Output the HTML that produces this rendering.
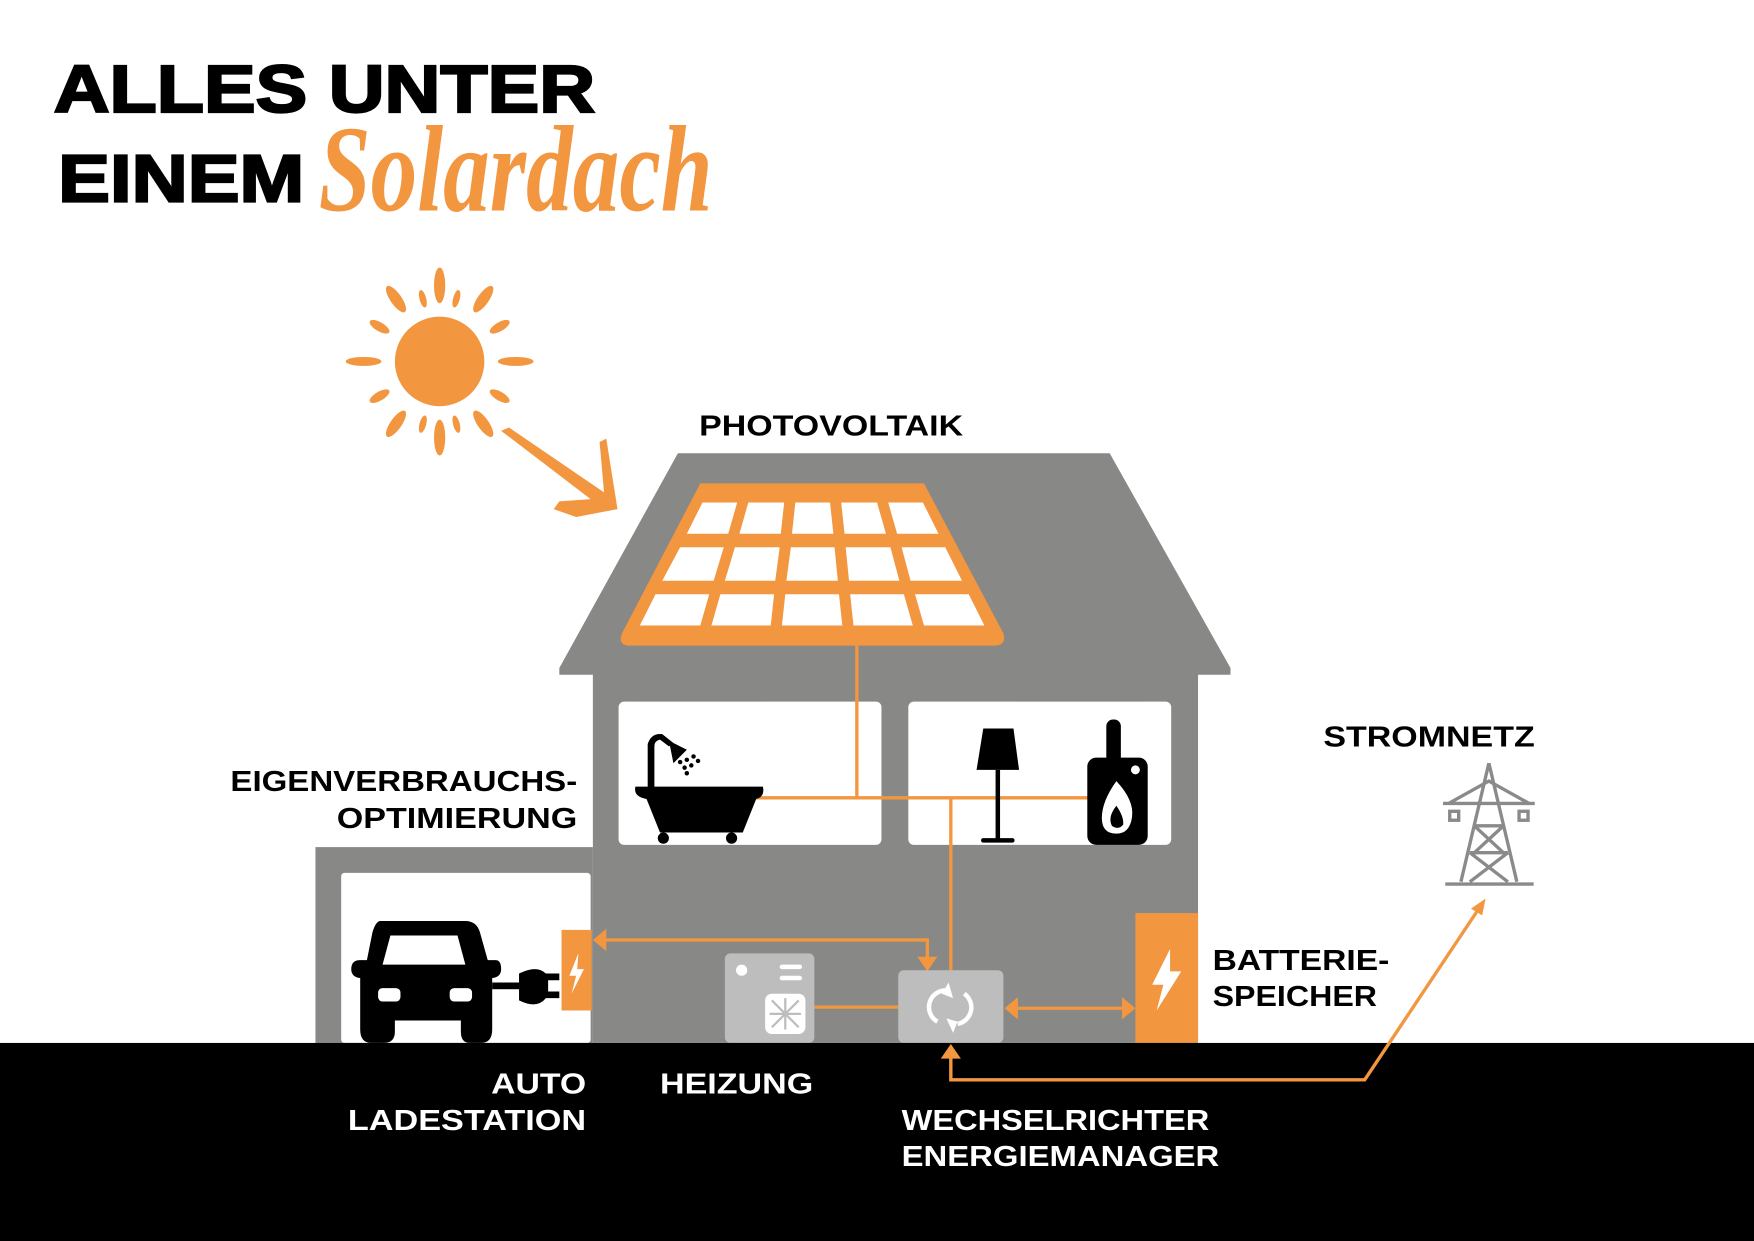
<!DOCTYPE html>
<html><head><meta charset="utf-8"><style>html,body{margin:0;padding:0;background:#fff}svg{display:block}</style></head><body>
<svg width="1754" height="1241" viewBox="0 0 1568 1109" preserveAspectRatio="none" xmlns="http://www.w3.org/2000/svg" font-family="Liberation Sans, sans-serif" font-weight="bold">
<rect width="1568" height="1109" fill="#fff"/>
<text x="48" y="100" font-size="60" textLength="484" lengthAdjust="spacingAndGlyphs" fill="#000" stroke="#000" stroke-width="2">ALLES UNTER</text>
<text x="52" y="180" font-size="60" textLength="220" lengthAdjust="spacingAndGlyphs" fill="#000" stroke="#000" stroke-width="2">EINEM</text>
<text x="285" y="188" font-size="110" font-family="Liberation Serif, serif" font-style="italic" textLength="352" lengthAdjust="spacingAndGlyphs" fill="#f2963f">Solardach</text>
<g fill="#f2963f">
<circle cx="393" cy="323" r="40"/>
<g transform="translate(393,323)">
<ellipse cx="0" cy="-68" rx="5" ry="16"/><ellipse cx="0" cy="68" rx="5" ry="16"/>
<ellipse cx="-68" cy="0" rx="16" ry="4"/><ellipse cx="68" cy="0" rx="16" ry="4"/>
<ellipse cx="0" cy="-68" rx="5" ry="14" transform="rotate(35)"/><ellipse cx="0" cy="-68" rx="5" ry="14" transform="rotate(-35)"/>
<ellipse cx="0" cy="68" rx="5" ry="14" transform="rotate(35)"/><ellipse cx="0" cy="68" rx="5" ry="14" transform="rotate(-35)"/>
<ellipse cx="0" cy="-62" rx="4" ry="10" transform="rotate(60)"/><ellipse cx="0" cy="-62" rx="4" ry="10" transform="rotate(-60)"/>
<ellipse cx="0" cy="62" rx="4" ry="10" transform="rotate(60)"/><ellipse cx="0" cy="62" rx="4" ry="10" transform="rotate(-60)"/>
<ellipse cx="0" cy="-58" rx="3" ry="8" transform="rotate(15)"/><ellipse cx="0" cy="-58" rx="3" ry="8" transform="rotate(-15)"/>
<ellipse cx="0" cy="58" rx="3" ry="8" transform="rotate(15)"/><ellipse cx="0" cy="58" rx="3" ry="8" transform="rotate(-15)"/>
</g>
<path d="M448 385 L455 382 L540 440 L536 395 L542 392 L552 455 L515 462 L495 455 L500 448 L528 446 Z"/>
</g>
<path d="M606 405 L992 405 L1100 597 L1100 603 L1071 603 L1071 932 L530 932 L530 603 L500 603 L500 597 Z" fill="#888886"/>
<rect x="282" y="757" width="248" height="175" fill="#888886"/>
<rect x="305" y="780" width="223" height="152" rx="3" fill="#fff"/>
<rect x="553" y="627" width="235" height="128" rx="5" fill="#fff"/>
<rect x="812" y="627" width="235" height="128" rx="5" fill="#fff"/>
<path d="M626 432 L826 432 L897 566 Q900 576 890 577 L562 577 Q552 576 556 566 Z" fill="#f2963f"/>
<g fill="#fff">
<polygon points="628,449 659,449 651,477 614,477"/><polygon points="669,449 701,449 698,477 661,477"/><polygon points="711,449 742,449 745,477 708,477"/><polygon points="752,449 784,449 792,477 755,477"/><polygon points="794,449 825,449 839,477 802,477"/>
<polygon points="608,489 647,489 638,519 592,519"/><polygon points="657,489 697,489 693,519 648,519"/><polygon points="707,489 746,489 749,519 703,519"/><polygon points="756,489 796,489 804,519 759,519"/><polygon points="806,489 845,489 860,519 814,519"/>
<polygon points="586,531 634,531 626,559 572,559"/><polygon points="644,531 692,531 689,559 636,559"/><polygon points="702,531 750,531 753,559 699,559"/><polygon points="760,531 808,531 816,559 763,559"/><polygon points="818,531 866,531 880,559 826,559"/>
</g>
<g stroke="#f2963f" stroke-width="3" fill="none">
<path d="M766 577 V713 M675 713 H975 M850 713 V867 M728 900 H803"/>
<path d="M829 858 V840 H540"/>
<path d="M910 901 H1003"/>
</g>
<g fill="#f2963f">
<polygon points="530,840 542,830 542,850"/>
<polygon points="820,855 838,855 829,868"/>
<polygon points="898,901 910,891 910,911"/>
<polygon points="1015,901 1003,891 1003,911"/>
</g>
<rect x="502" y="831" width="27" height="72" fill="#f2963f"/>
<path d="M517 852 L509 872 L515 872 L511 888 L522 866 L516 866 Z" fill="#fff"/>
<rect x="1015" y="816" width="56" height="116" fill="#f2963f"/>
<path d="M1046 848 L1030 880 L1040 880 L1034 903 L1056 868 L1046 868 Z" fill="#fff"/>
<rect x="648" y="852" width="80" height="80" rx="5" fill="#bdbdbd"/>
<circle cx="663" cy="867" r="5" fill="#fff"/><rect x="697" y="862" width="20" height="4" rx="2" fill="#fff"/><rect x="697" y="872" width="20" height="4" rx="2" fill="#fff"/>
<rect x="684" y="888" width="36" height="36" rx="6" fill="#fff"/>
<g stroke="#bdbdbd" stroke-width="2"><path d="M690 894 L714 918 M714 894 L690 918 M702 892 V920 M688 906 H716"/></g>
<rect x="803" y="867" width="94" height="65" rx="5" fill="#bdbdbd"/>
<g fill="none" stroke="#fff" stroke-width="4"><path d="M846 885 A15 15 0 0 0 838 913"/><path d="M856 915 A15 15 0 0 0 862 888"/></g>
<polygon points="848,878 852,892 842,888" fill="#fff"/><polygon points="852,923 846,910 856,913" fill="#fff"/>
<g fill="#000">
<path d="M568 703 H682 Q684 712 676 714 L664 744 H590 L578 714 Q566 712 568 703 Z"/>
<circle cx="593" cy="749" r="5"/><circle cx="654" cy="749" r="5"/>
<path d="M579 704 V665 Q582 655 592 656 L602 664 L598 667 L590 661 Q585 662 585 667 V704 Z"/>
<path d="M598 662 L614 670 L602 682 Z"/>
<circle cx="608" cy="681" r="2"/><circle cx="614" cy="679" r="2"/><circle cx="620" cy="676" r="2"/><circle cx="612" cy="686" r="2"/><circle cx="618" cy="684" r="2"/><circle cx="624" cy="680" r="2"/><circle cx="614" cy="691" r="2"/>
<path d="M879 651 H906 L911 688 H873 Z"/><rect x="890" y="688" width="4" height="62"/><rect x="877" y="749" width="30" height="4" rx="2"/>
<rect x="989" y="643" width="13" height="40" rx="6"/><rect x="972" y="677" width="54" height="78" rx="8"/>
</g>
<circle cx="1015" cy="688" r="4" fill="#fff"/>
<path d="M998 698 Q1014 715 1012 730 Q1010 745 998 745 Q985 745 985 731 Q985 716 998 698 Z" fill="#fff"/>
<path d="M998 720 Q1005 730 1004 737 Q1000 742 994 738 Q990 730 998 720 Z" fill="#000"/>
<g fill="#000">
<path d="M340 823 H416 Q426 823 429 833 L436 858 H443 Q448 858 448 866 Q448 873 440 874 V920 Q440 932 430 932 H420 Q412 932 412 922 V912 H353 V922 Q353 932 343 932 H332 Q322 932 322 920 V874 Q314 873 314 866 Q314 858 322 858 H328 L333 833 Q336 823 340 823 Z"/>
<rect x="440" y="878" width="24" height="6"/>
<path d="M464 870 Q480 862 488 870 H500 V876 H490 V886 H500 V892 H488 Q480 902 464 894 Z"/>
</g>
<path d="M349 836 H409 L416 862 H342 Z" fill="#fff"/>
<rect x="338" y="883" width="20" height="12" rx="4" fill="#fff"/><rect x="402" y="883" width="20" height="12" rx="4" fill="#fff"/>
<g stroke="#8a8a8a" stroke-width="3" fill="none">
<path d="M1331 682 L1306 788 M1331 682 L1356 788 M1292 790 H1371 M1290 718 H1372 M1295 718 L1331 698 L1367 718 M1318 738 L1344 762 M1344 738 L1318 762 M1314 762 L1348 788 M1348 762 L1314 788 M1318 738 H1344 M1314 762 H1348"/>
<rect x="1296" y="725" width="8" height="8"/><rect x="1358" y="725" width="8" height="8"/>
</g>
<rect x="0" y="932" width="1568" height="177" fill="#000"/>
<path d="M850 945 V965 H1220 L1320 815" stroke="#f2963f" stroke-width="3" fill="none"/>
<polygon points="850,933 841,946 859,946" fill="#f2963f"/>
<polygon points="1328,803 1315,812 1325,818" fill="#f2963f"/>
<g font-size="26" fill="#000">
<text x="625" y="389" textLength="236" lengthAdjust="spacingAndGlyphs">PHOTOVOLTAIK</text>
<text x="206" y="707" textLength="310" lengthAdjust="spacingAndGlyphs">EIGENVERBRAUCHS-</text>
<text x="301" y="740" textLength="215" lengthAdjust="spacingAndGlyphs">OPTIMIERUNG</text>
<text x="1183" y="667" textLength="189" lengthAdjust="spacingAndGlyphs">STROMNETZ</text>
<text x="1084" y="867" textLength="158" lengthAdjust="spacingAndGlyphs">BATTERIE-</text>
<text x="1084" y="899" textLength="147" lengthAdjust="spacingAndGlyphs">SPEICHER</text>
</g>
<g font-size="26" fill="#fff">
<text x="439" y="977" textLength="85" lengthAdjust="spacingAndGlyphs">AUTO</text>
<text x="311" y="1010" textLength="213" lengthAdjust="spacingAndGlyphs">LADESTATION</text>
<text x="590" y="977" textLength="137" lengthAdjust="spacingAndGlyphs">HEIZUNG</text>
<text x="806" y="1010" textLength="275" lengthAdjust="spacingAndGlyphs">WECHSELRICHTER</text>
<text x="806" y="1042" textLength="284" lengthAdjust="spacingAndGlyphs">ENERGIEMANAGER</text>
</g>
</svg>
</body></html>
